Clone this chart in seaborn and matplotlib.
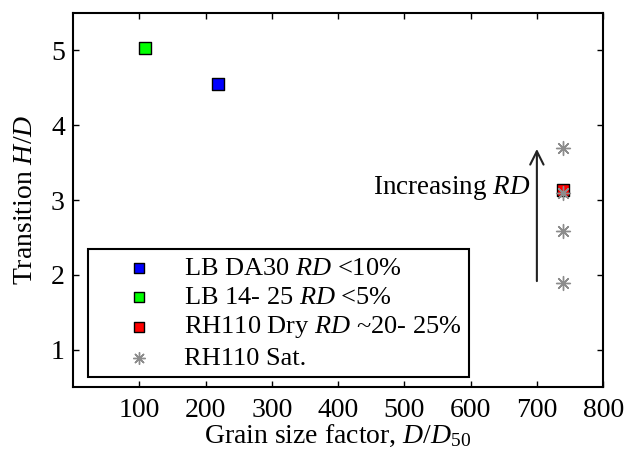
import seaborn as sns
import matplotlib.pyplot as plt

# Data
lb_da30_x = [219]
lb_da30_y = [4.55]
lb_1425_x = [108]
lb_1425_y = [5.03]
rh_dry_x = [740]
rh_dry_y = [3.13]
rh_sat_x = [740, 740, 740, 740]
rh_sat_y = [3.70, 3.09, 2.59, 1.89]

x_ticks = [100, 200, 300, 400, 500, 600, 700, 800]
y_ticks = [1, 2, 3, 4, 5]

sns.set_style('ticks')
plt.rcParams['font.family'] = ['Liberation Serif', 'DejaVu Serif']
plt.rcParams['mathtext.fontset'] = 'custom'
plt.rcParams['mathtext.rm'] = 'Liberation Serif'
plt.rcParams['mathtext.it'] = 'Liberation Serif:italic'
plt.rcParams['mathtext.bf'] = 'Liberation Serif:bold'
for key in ['text.color', 'axes.labelcolor', 'xtick.color', 'ytick.color']:
    plt.rcParams[key] = 'black'

fs = 20

fig = plt.figure(figsize=(6.25, 4.62), dpi=100)
ax = fig.add_axes([0.117, 0.162, 0.848, 0.810])

sq = dict(marker='s', s=80, edgecolor='black', linewidth=1.0, zorder=3)
sns.scatterplot(x=lb_da30_x, y=lb_da30_y, color=(0, 0, 1), label=r'LB DA30 $\mathit{RD}$ <10%', ax=ax, **sq)
sns.scatterplot(x=lb_1425_x, y=lb_1425_y, color=(0, 1, 0), label=r'LB 14- 25 $\mathit{RD}$ <5%', ax=ax, **sq)
sns.scatterplot(x=rh_dry_x, y=rh_dry_y, color=(1, 0, 0), label=r'RH110 Dry $\mathit{RD}$ ~20- 25%', ax=ax, **sq)
sns.scatterplot(x=rh_sat_x, y=rh_sat_y, marker=(8, 2, 0), s=100, color='#8c8c8c',
                linewidth=1.0, label='RH110 Sat.', ax=ax, zorder=4)

# arrow and annotation
ax.annotate('', xy=(700, 3.72), xytext=(700, 1.88),
            arrowprops=dict(arrowstyle='->', lw=1.5, color='#222222', mutation_scale=24))
ax.text(690, 3.16, r'Increasing $\mathit{RD}$', ha='right', va='center', fontsize=19.5)

ax.set_xlim(0, 800)
ax.set_ylim(0.5, 5.5)
ax.set_xticks(x_ticks)
ax.set_yticks(y_ticks)
ax.tick_params(direction='in', length=4.3, width=1, labelsize=fs, top=True, right=True)
ax.tick_params(axis='x', pad=7.5)
ax.tick_params(axis='y', pad=6)
for sp in ax.spines.values():
    sp.set_linewidth(1.5)
    sp.set_color('black')

ax.set_xlabel(r'Grain size factor, $\mathit{D/D}_{\mathrm{50}}$', fontsize=fs, labelpad=0)
ax.set_ylabel(r'Transition $\mathit{H/D}$', fontsize=fs, labelpad=9)

leg = ax.legend(loc='lower left', bbox_to_anchor=(0.029, 0.026), borderaxespad=0,
                fontsize=19, frameon=True, fancybox=False, edgecolor='black',
                labelspacing=0.21, handletextpad=0.05, borderpad=0.3, handlelength=3.26,
                markerscale=0.85)
leg.get_frame().set_linewidth(1.5)
leg.get_frame().set_alpha(1)

fig.savefig('out.png', dpi=100)
